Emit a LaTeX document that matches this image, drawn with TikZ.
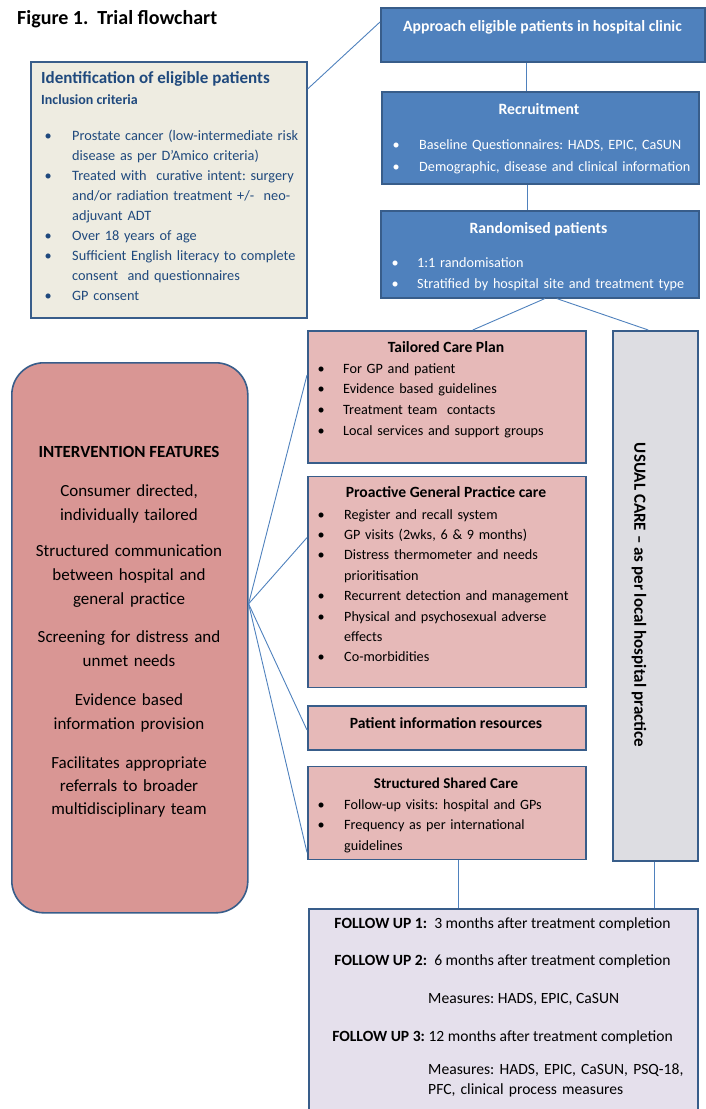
\documentclass[tikz,border=0pt]{standalone}
\usepackage{fontspec}
\setmainfont{Carlito}
\usetikzlibrary{positioning}
\frenchspacing

\definecolor{edgeblue}{HTML}{385D8A}
\definecolor{fillblue}{HTML}{4F81BD}
\definecolor{linkblue}{HTML}{4F81BD}
\definecolor{beige}{HTML}{EEECE1}
\definecolor{rose}{HTML}{E6B9B8}
\definecolor{deeprose}{HTML}{D99694}
\definecolor{greybox}{HTML}{DDDDE2}
\definecolor{lilac}{HTML}{E5E0EC}
\definecolor{navytext}{HTML}{1F497D}

\newcommand{\fs}[2]{\fontsize{#1}{#2}\selectfont}
\newcommand{\bul}[1]{\makebox[#1][l]{\textbullet}}
\newcommand{\contd}[1]{\hspace*{#1}}

\begin{document}
\begin{tikzpicture}[x=1pt, y=-1pt,
    box/.style = {draw=edgeblue, line width=1.6pt, inner sep=0pt, anchor=north west},
    bluebox/.style = {box, fill=fillblue},
    rosebox/.style = {box, fill=rose, minimum width=278pt},
    txt/.style = {inner sep=0pt, anchor=base west, align=left},
    ctxt/.style = {inner sep=0pt, anchor=base, align=center},
    link/.style = {draw=linkblue, line width=0.9pt}]
  \useasboundingbox (0,0) rectangle (706,1109);

  \node[txt, font=\fs{20}{22}\bfseries] (title) at (17,24) {Figure 1.\ \ Trial flowchart};

  % boxes
  \node[box, fill=beige, minimum width=276pt, minimum height=256pt] (ident) at (30,61) {};
  \node[bluebox, minimum width=324pt, minimum height=54pt] (approach) at (380,7) {};
  \node[bluebox, minimum width=317pt, minimum height=92pt] (recruit) at (381,91) {};
  \node[bluebox, minimum width=318pt, minimum height=87pt] (random) at (380,210) {};
  \node[rosebox, minimum height=132pt] (tailored) at (307,330) {};
  \node[rosebox, minimum height=211pt, below=12pt of tailored.south west, anchor=north west] (proactive) {};
  \node[rosebox, minimum height=44pt, below=17pt of proactive.south west, anchor=north west] (patient) {};
  \node[rosebox, minimum height=93pt, below=15pt of patient.south west, anchor=north west] (shared) {};
  \node[box, fill=greybox, minimum width=85pt, minimum height=530pt] (usual) at (612,330) {};
  \node[box, fill=lilac, minimum width=389pt, minimum height=220pt] (follow) at (308,908) {};
  \node[box, fill=deeprose, rounded corners=32pt, minimum width=236pt, minimum height=550pt] (inter) at (11,362) {};

  % identification
  \node[txt, font=\fs{17}{20}\bfseries, text=navytext] at (41,83) {Identification of eligible patients};
  \node[txt, font=\fs{14}{17}\bfseries, text=navytext] at (41,104) {Inclusion criteria};
  \node[txt, text width=262pt, font=\fs{14.3}{20}, text=navytext] at (44.5,140) {%
    \bul{27.5pt}Prostate cancer (low-intermediate risk\\
    \contd{27.5pt}disease as per D’Amico criteria)\\
    \bul{27.5pt}Treated with\ \ curative intent: surgery\\
    \contd{27.5pt}and/or radiation treatment +/-\ \ neo-\\
    \contd{27.5pt}adjuvant ADT\\
    \bul{27.5pt}Over 18 years of age\\
    \bul{27.5pt}Sufficient English literacy to complete\\
    \contd{27.5pt}consent\ \ and questionnaires\\
    \bul{27.5pt}GP consent};

  % right column
  \node[ctxt, font=\fs{15.7}{18}\bfseries, text=white] at (542.5,31) {Approach eligible patients in hospital clinic};
  \node[ctxt, font=\fs{15.7}{18}\bfseries, text=white] at (539,114) {Recruitment};
  \node[txt, text width=300pt, font=\fs{14.2}{22}, text=white] at (392.5,149) {%
    \bul{26.5pt}Baseline Questionnaires: HADS, EPIC, CaSUN\\
    \bul{26.5pt}Demographic, disease and clinical information};
  \node[ctxt, font=\fs{15.7}{18}\bfseries, text=white] at (538.5,233) {Randomised patients};
  \node[txt, text width=300pt, font=\fs{14.2}{21}, text=white] at (391.5,267) {%
    \bul{25.5pt}1:1 randomisation\\
    \bul{25.5pt}Stratified by hospital site and treatment type};

  % intervention arms
  \node[ctxt, font=\fs{15.6}{18}\bfseries] at (446,352) {Tailored Care Plan};
  \node[txt, text width=262pt, font=\fs{14.2}{20.7}] at (317.5,373) {%
    \bul{25.5pt}For GP and patient\\
    \bul{25.5pt}Evidence based guidelines\\
    \bul{25.5pt}Treatment team\ \ contacts\\
    \bul{25.5pt}Local services and support groups};
  \node[ctxt, font=\fs{15.6}{18}\bfseries] at (446,497) {Proactive General Practice care};
  \node[txt, text width=262pt, font=\fs{14.2}{20.4}] at (317.5,519) {%
    \bul{26.5pt}Register and recall system\\
    \bul{26.5pt}GP visits (2wks, 6 \& 9 months)\\
    \bul{26.5pt}Distress thermometer and needs\\
    \contd{26.5pt}prioritisation\\
    \bul{26.5pt}Recurrent detection and management\\
    \bul{26.5pt}Physical and psychosexual adverse\\
    \contd{26.5pt}effects\\
    \bul{26.5pt}Co-morbidities};
  \node[ctxt, font=\fs{15.6}{18}\bfseries] at (446,728) {Patient information resources};
  \node[ctxt, font=\fs{15}{18}\bfseries] at (446,788) {Structured Shared Care};
  \node[txt, text width=262pt, font=\fs{14.2}{20.5}] at (317.5,809) {%
    \bul{26.5pt}Follow-up visits: hospital and GPs\\
    \bul{26.5pt}Frequency as per international\\
    \contd{26.5pt}guidelines};

  \node[font=\fs{17}{20}\bfseries, rotate=-90, inner sep=0pt] at (639,595) {USUAL CARE – as per local hospital practice};

  % follow up
  \node[ctxt, font=\fs{15.6}{18}] at (502.5,928) {\textbf{FOLLOW UP 1:}\ \ 3 months after treatment completion};
  \node[ctxt, font=\fs{15.6}{18}] at (502.5,965) {\textbf{FOLLOW UP 2:}\ \ 6 months after treatment completion};
  \node[txt, font=\fs{15.6}{18}] at (428,1003) {Measures: HADS, EPIC, CaSUN};
  \node[ctxt, font=\fs{15.6}{18}] at (502.5,1041) {\textbf{FOLLOW UP 3:} 12 months after treatment completion};
  \node[txt, text width=270pt, font=\fs{15.6}{20}] at (428,1074) {Measures: HADS, EPIC, CaSUN, PSQ-18,\\PFC, clinical process measures};

  % intervention features
  \node[ctxt, font=\fs{17}{24}\bfseries] at (129,457) {INTERVENTION FEATURES};
  \node[ctxt, text width=230pt, font=\fs{17}{24}] at (129,496) {Consumer directed,\\individually tailored};
  \node[ctxt, text width=230pt, font=\fs{17}{24}] at (129,556) {Structured communication\\between hospital and\\general practice};
  \node[ctxt, text width=230pt, font=\fs{17}{24}] at (129,642) {Screening for distress and\\unmet needs};
  \node[ctxt, text width=230pt, font=\fs{17}{24}] at (129,705) {Evidence based\\information provision};
  \node[ctxt, text width=230pt, font=\fs{17}{23}] at (129,768) {Facilitates appropriate\\referrals to broader\\multidisciplinary team};

  % connectors
  \draw[link] ([yshift=-28pt]ident.north east) -- ([yshift=-15pt]approach.north west);
  \draw[link] ([xshift=-16pt]approach.south) -- ([xshift=-16pt]approach.south |- recruit.north);
  \draw[link] ([xshift=-13pt]recruit.south) -- ([xshift=-13pt]recruit.south |- random.north);
  \draw[link] ([xshift=5pt]random.south) -- ([xshift=26pt]tailored.north);
  \draw[link] ([xshift=17pt]random.south) -- ([xshift=-7pt]usual.north);
  \coordinate (hub) at ([yshift=34pt]inter.east);
  \draw[link] (hub) -- ([yshift=-45pt]tailored.north west);
  \draw[link] (hub) -- ([yshift=-62pt]proactive.north west);
  \draw[link] (hub) -- ([yshift=-2pt]patient.west);
  \draw[link] (hub) -- ([yshift=8pt]shared.south west);
  \draw[link] ([xshift=12pt]shared.south) -- ([xshift=12pt]shared.south |- follow.north);
  \draw[link] ([xshift=-1pt]usual.south) -- ([xshift=-1pt]usual.south |- follow.north);
\end{tikzpicture}
\end{document}
